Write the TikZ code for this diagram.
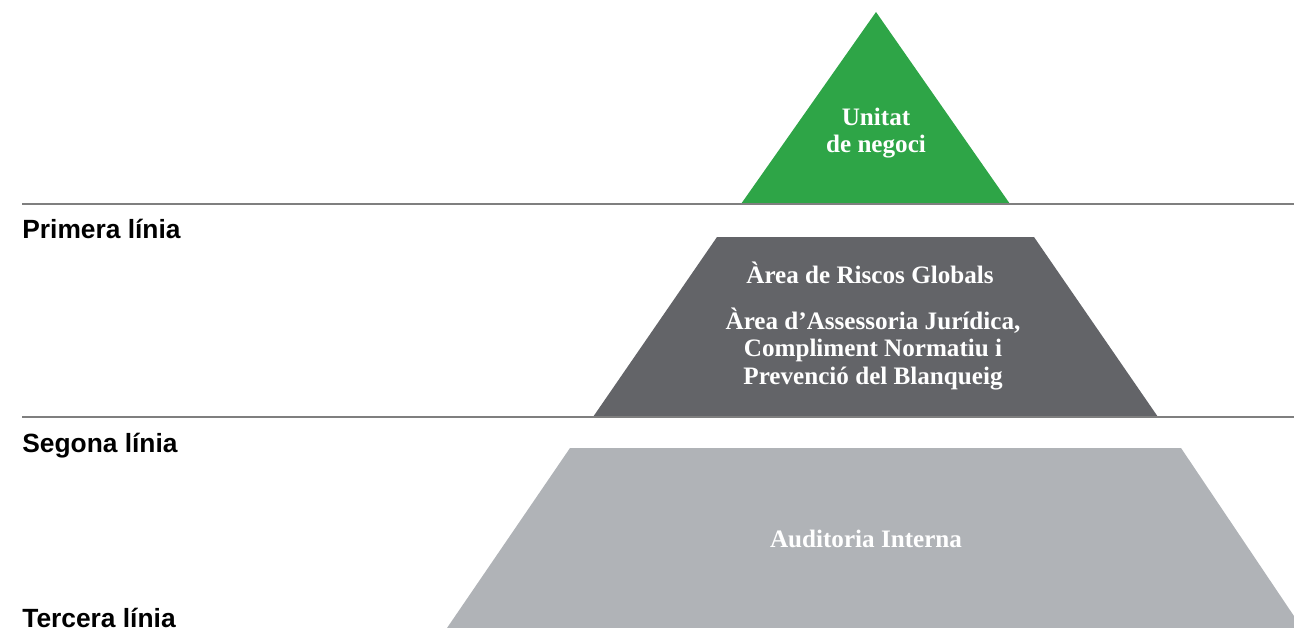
\documentclass[tikz,border=0pt]{standalone}
\usepackage{fontspec}
\setmainfont{Liberation Serif}
\newfontfamily\linefont{Liberation Sans}
\definecolor{verd}{HTML}{2EA547}
\definecolor{grisfosc}{HTML}{636468}
\definecolor{grisclar}{HTML}{B0B3B7}
\definecolor{gristira}{HTML}{7F7F7F}
\tikzset{
  dins/.style={text=white,font=\fontsize{14.3}{15.4}\selectfont\bfseries,align=center,inner sep=0pt,anchor=base},
  nivell/.style={font=\linefont\fontsize{15}{16}\selectfont\bfseries,inner sep=0pt,anchor=base west}
}
\begin{document}
\begin{tikzpicture}[x=0.02cm,y=-0.02cm]
        \useasboundingbox (0,0) rectangle (1294,628);
        \fill[verd] (876,12) -- (1010,204) -- (741,204) -- cycle;
        \fill[grisfosc] (717,237) -- (1034,237) -- (1158,417) -- (593,417) -- cycle;
        \fill[grisclar] (570,448) -- (1181,448) -- (1302,628) -- (447,628) -- cycle;
        \draw[gristira,line width=1.4pt] (22,204) -- (1294,204);
        \draw[gristira,line width=1.4pt] (22,417) -- (1294,417);
        \node [dins] (unitat) at (876,153) {Unitat\\de negoci};
        \node [dins] (riscos) at (870,283) {Àrea de Riscos Globals};
        \node [dins] (assessoria) at (873,384) {Àrea d’Assessoria Jurídica,\\Compliment Normatiu i\\Prevenció del Blanqueig};
        \node [dins] (auditoria) at (866,547) {Auditoria Interna};
        \node [nivell] (primera) at (22,238) {Primera línia};
        \node [nivell] (segona) at (22,452) {Segona línia};
        \node [nivell] (tercera) at (22,627) {Tercera línia};
      \end{tikzpicture}
\end{document}
